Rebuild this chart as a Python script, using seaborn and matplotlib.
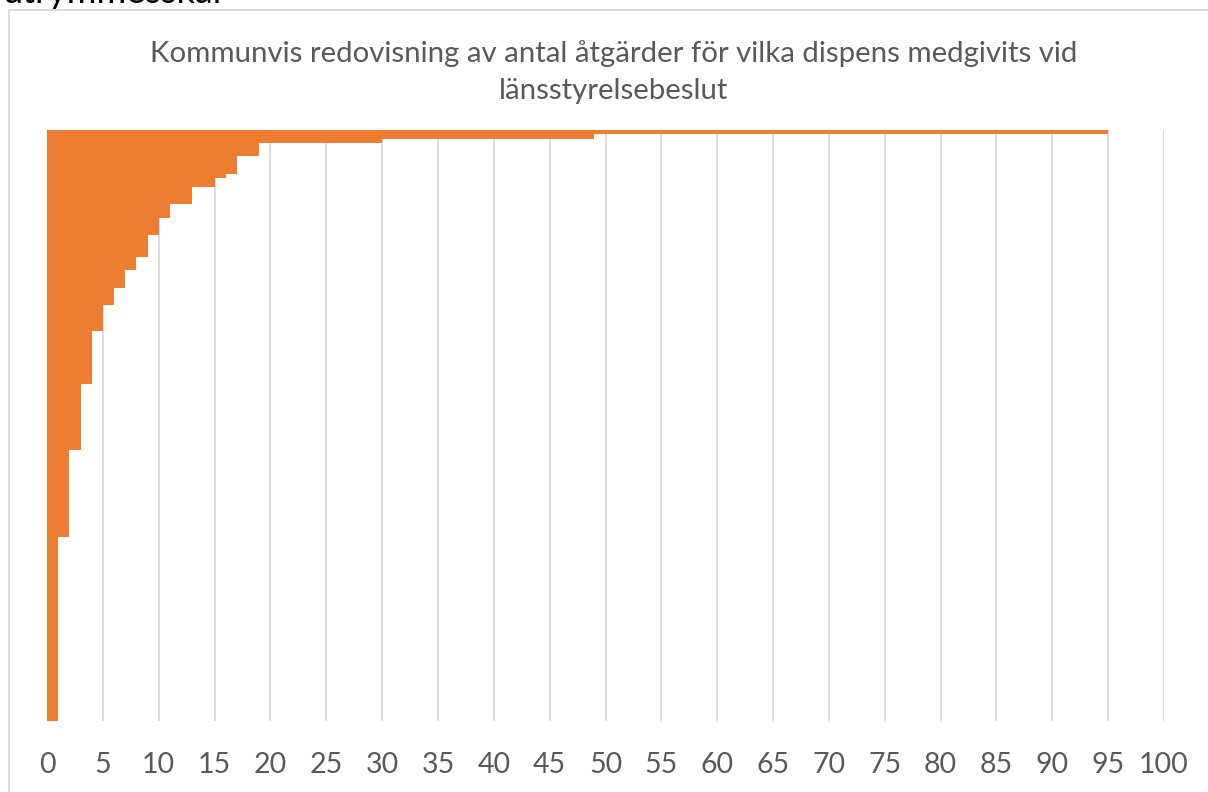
import matplotlib
matplotlib.use('Agg')
import matplotlib.pyplot as plt
import seaborn as sns
import pandas as pd
from matplotlib.patches import Rectangle

# Number of measures with dispensation per municipality (sorted, largest first)
values = [95, 49, 30,
          19, 19, 19,
          17, 17, 17, 17,
          16,
          15, 15,
          13, 13, 13, 13,
          11, 11, 11,
          10, 10, 10, 10,
          9, 9, 9, 9, 9,
          8, 8, 8,
          7, 7, 7, 7,
          6, 6, 6, 6,
          5, 5, 5, 5, 5, 5,
          4, 4, 4, 4, 4, 4, 4, 4, 4, 4, 4, 4,
          3, 3, 3, 3, 3, 3, 3, 3, 3, 3, 3, 3, 3, 3, 3,
          2, 2, 2, 2, 2, 2, 2, 2, 2, 2, 2, 2, 2, 2, 2, 2, 2, 2, 2, 2,
          1, 1, 1, 1, 1, 1, 1, 1, 1, 1, 1, 1, 1, 1, 1, 1, 1, 1, 1, 1, 1,
          1, 1, 1, 1, 1, 1, 1, 1, 1, 1, 1, 1, 1, 1, 1, 1, 1, 1, 1, 1, 1]
kommuner = [f"Kommun {i + 1}" for i in range(len(values))]
x_ticks = list(range(0, 101, 5))

title = "Kommunvis redovisning av antal åtgärder för vilka dispens medgivits vid\nlänsstyrelsebeslut"

df = pd.DataFrame({'kommun': kommuner, 'antal': values})

sns.set_style('white')
plt.rcParams['font.family'] = ['Lato', 'DejaVu Sans']

fig = plt.figure(figsize=(12.08, 7.92), dpi=100)
ax = fig.add_axes([47 / 1208, 1 - 721 / 792, (1164 - 47) / 1208, (721 - 130) / 792])

sns.barplot(data=df, x='antal', y='kommun', orient='h', color='#ED7D31',
            saturation=1, width=1.0, linewidth=0, ax=ax)

ax.set_xlim(0, 100)
ax.set_xticks(x_ticks)
ax.set_xticklabels([str(t) for t in x_ticks], fontsize=20.5, color='#595959')
ax.set_yticks([])
ax.set_xlabel('')
ax.set_ylabel('')
ax.tick_params(axis='x', length=0, pad=22)
ax.xaxis.grid(True, color='#D9D9D9', linewidth=1.3)
ax.set_axisbelow(True)
for s in ax.spines.values():
    s.set_visible(False)

fig.text(0.508, 1 - 72 / 792, title, ha='center', va='center', fontsize=21.2,
         color='#595959', linespacing=1.55)

# chart frame and the cut-off heading text above it (cut off in the original too)
fig.patches.append(Rectangle((9 / 1208, -0.05), 1.2, 1.05 - 10 / 792, fill=False,
                             edgecolor='#D9D9D9', linewidth=1.3,
                             transform=fig.transFigure, figure=fig))
fig.text(0.002, 1 - 3 / 792, 'utrymmesskäl', ha='left', va='baseline',
         fontsize=26, color='black')

fig.savefig('out.png', dpi=100)
